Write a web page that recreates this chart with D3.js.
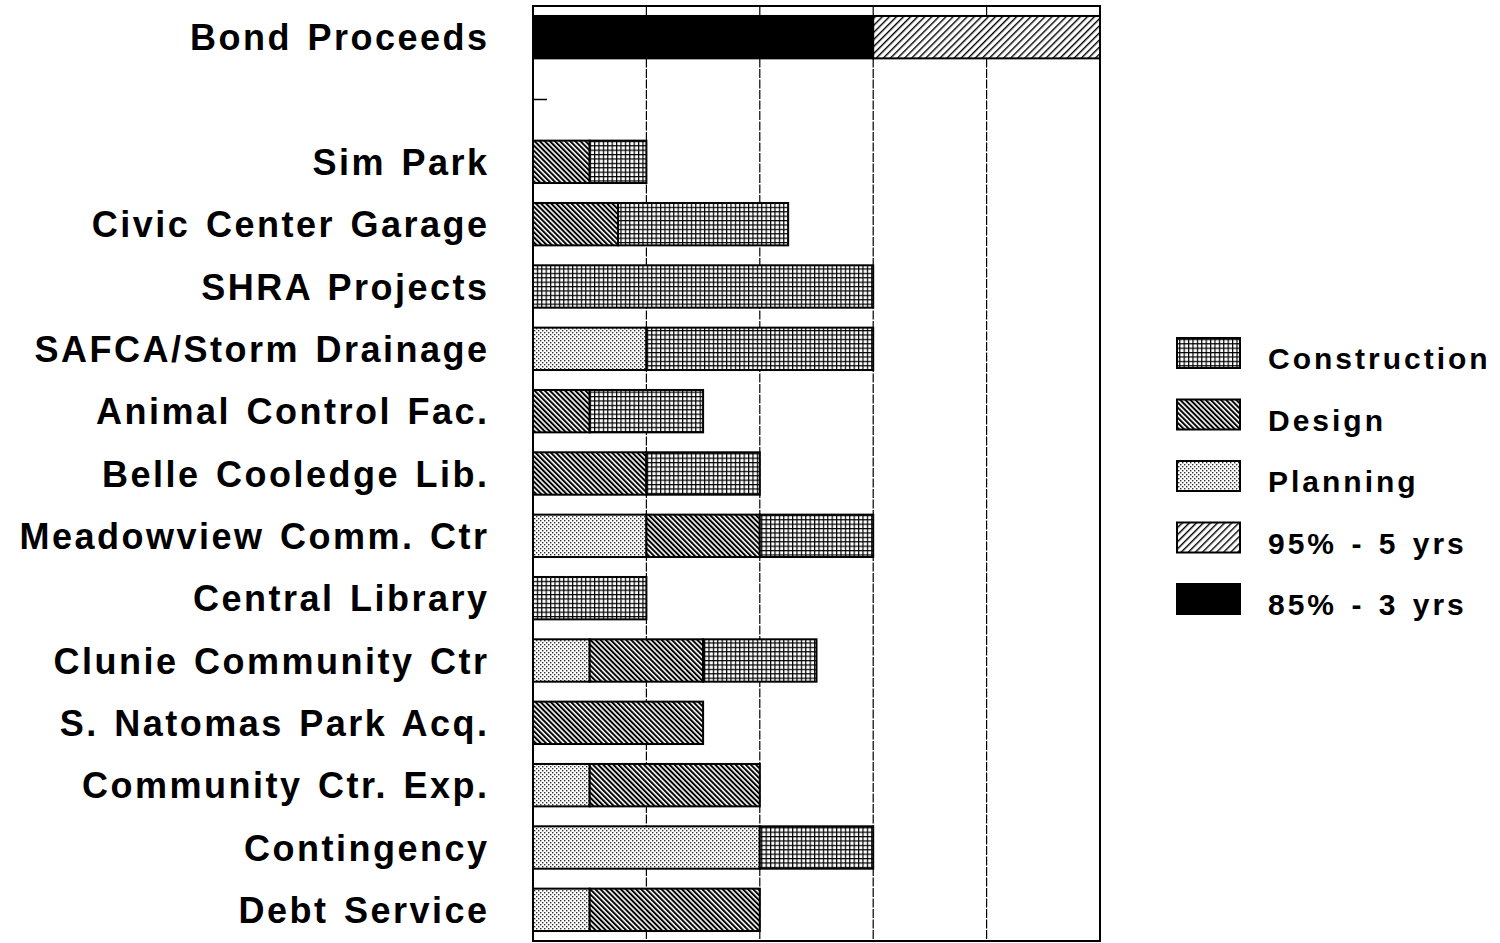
<!DOCTYPE html>
<html>
<head>
<meta charset="utf-8">
<script src="https://cdn.jsdelivr.net/npm/d3@7"></script>
<style>
  html, body { margin: 0; padding: 0; background: #fff; }
  svg { display: block; }
  text { font-family: "Liberation Sans", Arial, Helvetica, sans-serif; font-weight: bold; fill: #000; }
</style>
</head>
<body>
<svg id="chart" width="1500" height="943"></svg>
<script>
// Rader (tom rad mellan obligationer och projekt)
const projects = [
  "Bond Proceeds", "", "Sim Park", "Civic Center Garage", "SHRA Projects",
  "SAFCA/Storm Drainage", "Animal Control Fac.", "Belle Cooledge Lib.",
  "Meadowview Comm. Ctr", "Central Library", "Clunie Community Ctr",
  "S. Natomas Park Acq.", "Community Ctr. Exp.", "Contingency", "Debt Service"
];

// Längder i år, staplade i ordningen nedan
const bond85 = [3, 0, 0, 0, 0, 0, 0, 0, 0, 0, 0, 0, 0, 0, 0];
const bond95 = [2, 0, 0, 0, 0, 0, 0, 0, 0, 0, 0, 0, 0, 0, 0];
const planning = [0, 0, 0, 0, 0, 1, 0, 0, 1, 0, 0.5, 0, 0.5, 2, 0.5];
const design = [0, 0, 0.5, 0.75, 0, 0, 0.5, 1, 1, 0, 1, 1.5, 1.5, 0, 1.5];
const construction = [0, 0, 0.5, 1.5, 3, 2, 1, 1, 1, 1, 1, 0, 0, 1, 0];

const seriesKeys = ["bond85", "bond95", "planning", "design", "construction"];
const seriesValues = { bond85, bond95, planning, design, construction };

const legendItems = [
  { key: "construction", label: "Construction" },
  { key: "design", label: "Design" },
  { key: "planning", label: "Planning" },
  { key: "bond95", label: "95% - 5 yrs" },
  { key: "bond85", label: "85% - 3 yrs" }
];

const xTicks = [0, 1, 2, 3, 4, 5];

const svg = d3.select("#chart");
const frame = { left: 533, right: 1100, top: 6, bottom: 941 };

const x = d3.scaleLinear().domain([0, 5]).range([frame.left, frame.right]);
const y = d3.scaleBand().domain(d3.range(projects.length))
  .range([frame.top, frame.bottom]).paddingInner(0.32).paddingOuter(0.16);

// Mönster för faserna
const defs = svg.append("defs");

const pConstr = defs.append("pattern").attr("id", "construction")
  .attr("patternUnits", "userSpaceOnUse").attr("width", 4.4).attr("height", 4.4);
pConstr.append("rect").attr("width", 4.4).attr("height", 4.4).attr("fill", "#fff");
pConstr.append("rect").attr("width", 4.4).attr("height", 1.2).attr("fill", "#000");
pConstr.append("rect").attr("width", 1.2).attr("height", 4.4).attr("fill", "#000");

const pDesign = defs.append("pattern").attr("id", "design")
  .attr("patternUnits", "userSpaceOnUse").attr("width", 3.6).attr("height", 10)
  .attr("patternTransform", "rotate(-45)");
pDesign.append("rect").attr("width", 3.6).attr("height", 10).attr("fill", "#fff");
pDesign.append("rect").attr("width", 2).attr("height", 10).attr("fill", "#000");

const pPlan = defs.append("pattern").attr("id", "planning")
  .attr("patternUnits", "userSpaceOnUse").attr("width", 4).attr("height", 4);
pPlan.append("rect").attr("width", 4).attr("height", 4).attr("fill", "#fff");
pPlan.append("rect").attr("x", 0).attr("y", 0).attr("width", 1.4).attr("height", 1.4).attr("fill", "#333");
pPlan.append("rect").attr("x", 2).attr("y", 2).attr("width", 1.4).attr("height", 1.4).attr("fill", "#333");

const p95 = defs.append("pattern").attr("id", "bond95")
  .attr("patternUnits", "userSpaceOnUse").attr("width", 5).attr("height", 10)
  .attr("patternTransform", "rotate(45)");
p95.append("rect").attr("width", 5).attr("height", 10).attr("fill", "#fff");
p95.append("rect").attr("width", 1.4).attr("height", 10).attr("fill", "#000");

const fills = {
  bond85: "#000",
  bond95: "url(#bond95)",
  planning: "url(#planning)",
  design: "url(#design)",
  construction: "url(#construction)"
};

// Stapla segmenten
const rows = projects.map((name, i) => {
  const r = { index: i };
  seriesKeys.forEach(k => { r[k] = seriesValues[k][i]; });
  return r;
});
const stacked = d3.stack().keys(seriesKeys)(rows);

// Stödlinjer
svg.append("g").selectAll("line")
  .data(xTicks.slice(1, -1))
  .join("line")
  .attr("x1", d => x(d)).attr("x2", d => x(d))
  .attr("y1", frame.top).attr("y2", frame.bottom)
  .attr("stroke", "#000").attr("stroke-width", 1.2)
  .attr("stroke-dasharray", "9,1.5");

// Skalstreck på vänsterkanten
svg.append("g").selectAll("line")
  .data(d3.range(projects.length))
  .join("line")
  .attr("x1", frame.left).attr("x2", frame.left + 14)
  .attr("y1", d => y(d) + y.bandwidth() / 2)
  .attr("y2", d => y(d) + y.bandwidth() / 2)
  .attr("stroke", "#000").attr("stroke-width", 1.5);

// Staplar
const gBars = svg.append("g");
stacked.forEach(layer => {
  gBars.append("g").selectAll("rect")
    .data(layer.filter(d => d[1] > d[0]))
    .join("rect")
    .attr("x", d => x(d[0]))
    .attr("y", d => y(d.data.index))
    .attr("width", d => x(d[1]) - x(d[0]))
    .attr("height", y.bandwidth())
    .attr("fill", fills[layer.key])
    .attr("stroke", "#000")
    .attr("stroke-width", 2);
});

// Ram
svg.append("rect")
  .attr("x", frame.left).attr("y", frame.top)
  .attr("width", frame.right - frame.left).attr("height", frame.bottom - frame.top)
  .attr("fill", "none").attr("stroke", "#000").attr("stroke-width", 2);

// Radetiketter
const labelSpacing = 2.5;
svg.append("g").selectAll("text")
  .data(projects.map((p, i) => ({ p, i })).filter(d => d.p))
  .join("text")
  .attr("x", 487 + labelSpacing)
  .attr("y", d => y(d.i) + y.bandwidth() / 2 + 13)
  .attr("text-anchor", "end")
  .style("font-size", "36px")
  .style("letter-spacing", `${labelSpacing}px`)
  .style("word-spacing", "3px")
  .text(d => d.p);

// Teckenförklaring
const gLegend = svg.append("g");
legendItems.forEach((item, i) => {
  const top = 338 + i * 61.5;
  gLegend.append("rect")
    .attr("x", 1177).attr("y", top)
    .attr("width", 63).attr("height", 30)
    .attr("fill", fills[item.key])
    .attr("stroke", "#000").attr("stroke-width", 2);
  gLegend.append("text")
    .attr("x", 1268).attr("y", top + 31)
    .style("font-size", "30px")
    .style("letter-spacing", "3px")
    .style("word-spacing", "3px")
    .text(item.label);
});
</script>
</body>
</html>
